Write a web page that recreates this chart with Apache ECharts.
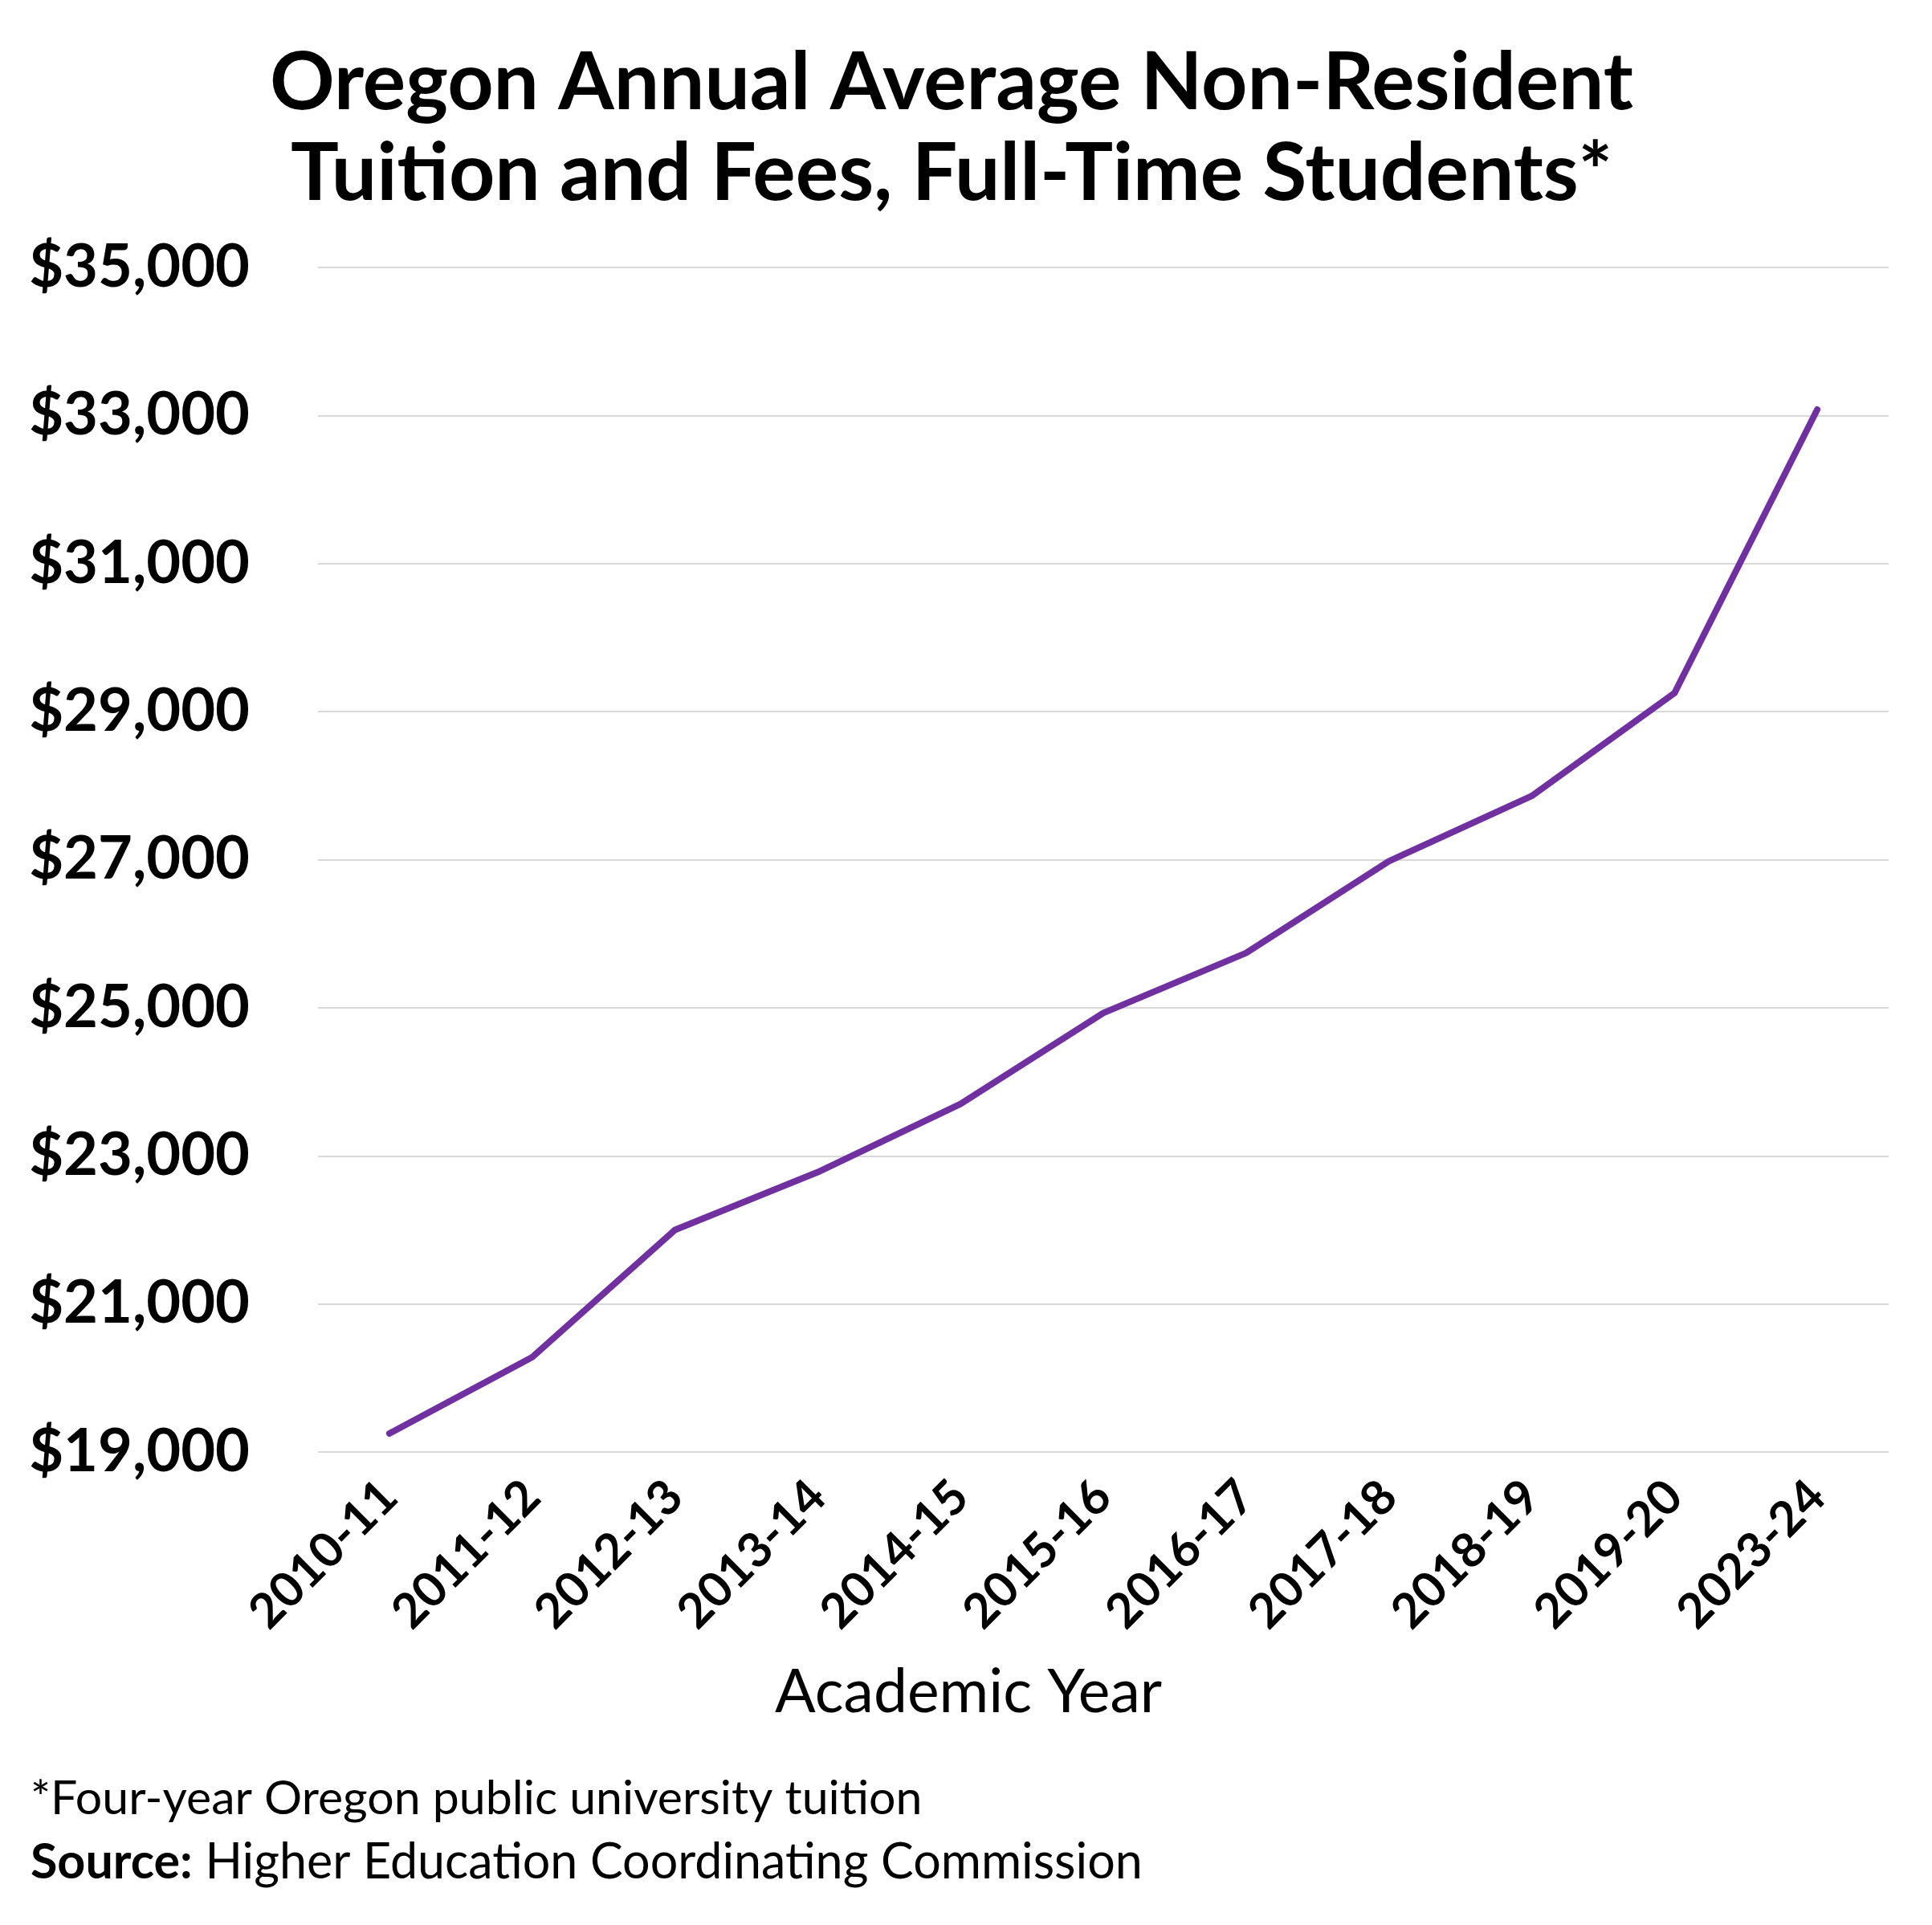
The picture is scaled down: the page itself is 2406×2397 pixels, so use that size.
<!DOCTYPE html>
<html>
<head>
<meta charset="utf-8">
<script src="https://cdn.jsdelivr.net/npm/echarts@6/dist/echarts.min.js"></script>
<style>
html,body{margin:0;padding:0;background:#fff;}
#chart{width:2406px;height:2397px;}
</style>
</head>
<body>
<div id="chart"></div>
<script>
const categories = ['2010-11','2011-12','2012-13','2013-14','2014-15','2015-16','2016-17','2017-18','2018-19','2019-20','2023-24'];
const tuition = [19250, 20280, 22000, 22780, 23700, 24930, 25740, 26980, 27860, 29250, 33080];
const yTicks = {min: 19000, max: 35000, step: 2000};
const titleLines = ['Oregon Annual Average Non-Resident', 'Tuition and Fees, Full-Time Students*'];
const footnote = '*Four-year Oregon public university tuition';
const sourceLabel = 'Source:';
const sourceText = ' Higher Education Coordinating Commission';
const xAxisName = 'Academic Year';

const FONT = 'Lato';
const chart = echarts.init(document.getElementById('chart'), null, {renderer: 'canvas'});
chart.setOption({
  backgroundColor: '#ffffff',
  animation: false,
  grid: {left: 396, right: 54, top: 333, bottom: 589, containLabel: false},
  xAxis: {
    type: 'category',
    data: categories,
    boundaryGap: true,
    axisLine: {show: false},
    axisTick: {show: false},
    axisLabel: {
      rotate: 45, margin: 46, color: '#000', fontFamily: FONT, fontWeight: 'bold', fontSize: 60, interval: 0
    },
    name: xAxisName,
    nameLocation: 'middle',
    nameGap: 262,
    nameTextStyle: {color: '#000', fontFamily: FONT, fontSize: 75, verticalAlign: 'top', padding: [0, 336, 0, 0]}
  },
  yAxis: {
    type: 'value',
    min: yTicks.min, max: yTicks.max, interval: yTicks.step,
    axisLine: {show: false},
    axisTick: {show: false},
    splitLine: {lineStyle: {color: '#d9d9d9', width: 2}},
    axisLabel: {
      margin: 85, color: '#000', fontFamily: FONT, fontWeight: 'bold', fontSize: 74,
      formatter: v => '$' + v.toLocaleString('en-US')
    }
  },
  series: [{
    type: 'line',
    data: tuition,
    symbol: 'none',
    lineStyle: {color: '#7030a0', width: 8, cap: 'round', join: 'round'},
    itemStyle: {color: '#7030a0'}
  }],
  graphic: [
    {type: 'text', x: 1185, y: 54, style: {text: titleLines[0], font: 'bold 100px ' + FONT, fill: '#000', align: 'center', verticalAlign: 'top'}},
    {type: 'text', x: 1185, y: 167, style: {text: titleLines[1], font: 'bold 100px ' + FONT, fill: '#000', align: 'center', verticalAlign: 'top'}},
    {type: 'text', x: 38, y: 2210, style: {text: footnote, font: '59px ' + FONT, fill: '#000', align: 'left', verticalAlign: 'top'}},
    {type: 'text', x: 38, y: 2289, style: {
      text: '{b|' + sourceLabel + '}{r|' + sourceText + '}',
      align: 'left', verticalAlign: 'top',
      rich: {
        b: {fontFamily: FONT, fontWeight: 'bold', fontSize: 61, fill: '#000'},
        r: {fontFamily: FONT, fontSize: 61, fill: '#000'}
      }
    }}
  ]
});
</script>
</body>
</html>
